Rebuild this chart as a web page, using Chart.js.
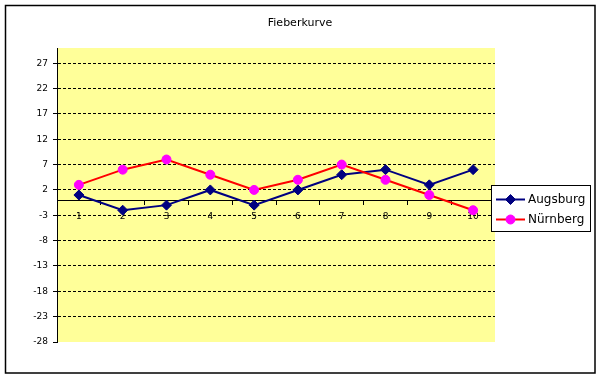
<!DOCTYPE html>
<html>
<head>
<meta charset="utf-8">
<script src="https://cdn.jsdelivr.net/npm/chart.js@4/dist/chart.umd.min.js"></script>
<style>
html,body{margin:0;padding:0;background:#fff;}
#wrap{width:601px;height:379px;position:relative;}
</style>
</head>
<body>
<div id="wrap"><canvas id="c" width="601" height="379"></canvas></div>
<script>
const chartTitle = 'Fieberkurve';
const categories = ['1','2','3','4','5','6','7','8','9','10'];
const seriesNames = ['Augsburg','Nürnberg'];
const augsburg = [1,-2,-1,2,-1,2,5,6,3,6];
const nuernberg = [3,6,8,5,2,4,7,4,1,-2];
const yTicks = [-28,-23,-18,-13,-8,-3,2,7,12,17,22,27];
const yMin = -28;
const yMax = 30;

const tickFont = {family:'DejaVu Sans', size:9};

const framePlugin = {
  id:'frame',
  beforeDraw(chart){
    const {ctx, chartArea:a} = chart;
    ctx.save();
    ctx.fillStyle = '#ffffff';
    ctx.fillRect(0,0,chart.width,chart.height);
    ctx.strokeStyle = '#000';
    ctx.lineWidth = 1.5;
    ctx.strokeRect(5.5,5.5,589.5,367.5);
    ctx.fillStyle = '#FFFF99';
    ctx.fillRect(a.left, a.top, a.right-a.left, a.bottom-a.top);
    ctx.restore();
  },
  afterDraw(chart){
    const ctx = chart.ctx;
    ctx.save();
    ctx.fillStyle = '#000';
    ctx.font = '11px "DejaVu Sans"';
    ctx.textAlign = 'center';
    ctx.textBaseline = 'middle';
    ctx.fillText(chartTitle, 300, 23);
    const lx = 491.5, ly = 185.5, lw = 99, lh = 46;
    ctx.fillStyle = '#fff';
    ctx.fillRect(lx, ly, lw, lh);
    ctx.strokeStyle = '#000';
    ctx.lineWidth = 1;
    ctx.strokeRect(lx, ly, lw, lh);
    chart.data.datasets.forEach((ds, i) => {
      const y = 199.5 + i*20;
      ctx.strokeStyle = ds.borderColor;
      ctx.lineWidth = 2;
      ctx.beginPath();
      ctx.moveTo(496, y);
      ctx.lineTo(525, y);
      ctx.stroke();
      ctx.fillStyle = ds.pointBackgroundColor;
      ctx.strokeStyle = ds.pointBorderColor;
      ctx.lineWidth = 1;
      Chart.helpers.drawPoint(ctx, {pointStyle: ds.pointStyle, rotation:0, borderWidth:1, radius: ds.pointRadius}, 510.5, y);
      ctx.fillStyle = '#000';
      ctx.font = '12px "DejaVu Sans"';
      ctx.textAlign = 'left';
      ctx.textBaseline = 'middle';
      ctx.fillText(ds.label, 528, y);
    });
    ctx.restore();
  }
};

new Chart(document.getElementById('c'), {
  type: 'line',
  data: {
    labels: categories,
    datasets: [
      {
        label: seriesNames[0],
        data: augsburg,
        borderColor: '#000080',
        borderWidth: 2,
        pointStyle: 'rectRot',
        pointRadius: 5,
        pointHoverRadius: 5,
        pointBackgroundColor: '#000080',
        pointBorderColor: '#000080',
        pointBorderWidth: 1,
        tension: 0,
        order: 1
      },
      {
        label: seriesNames[1],
        data: nuernberg,
        borderColor: '#FF0000',
        borderWidth: 2,
        pointStyle: 'circle',
        pointRadius: 4.5,
        pointHoverRadius: 4.5,
        pointBackgroundColor: '#FF00FF',
        pointBorderColor: '#FF00FF',
        pointBorderWidth: 1,
        tension: 0,
        order: 0
      }
    ]
  },
  options: {
    responsive: false,
    animation: false,
    devicePixelRatio: 1,
    layout: { padding: { left: 0, top: 48, right: 106, bottom: 37 } },
    plugins: { legend: { display: false }, title: { display: false }, tooltip: { enabled: false } },
    scales: {
      x: {
        type: 'category',
        position: { y: 0 },
        offset: true,
        grid: { offset: true, drawOnChartArea: false, drawTicks: true, tickLength: 4, color: '#000', tickColor: '#000' },
        border: { display: true, color: '#000', width: 1 },
        ticks: { color: '#000', font: tickFont, padding: 7, maxRotation: 0, autoSkip: false }
      },
      y: {
        type: 'linear',
        min: yMin,
        max: yMax,
        afterBuildTicks(scale){ scale.ticks = yTicks.map(v => ({value: v})); },
        afterFit(scale){ scale.width = 57; },
        grid: {
          color: (c) => (c.tick && c.tick.value === yMin) ? 'rgba(0,0,0,0)' : '#000',
          tickColor: '#000',
          lineWidth: 1,
          tickLength: 4,
          tickBorderDash: []
        },
        border: { display: true, color: '#000', width: 1, dash: [3, 2] },
        ticks: { color: '#000', font: tickFont, padding: 5 }
      }
    }
  },
  plugins: [framePlugin]
});
</script>
</body>
</html>
